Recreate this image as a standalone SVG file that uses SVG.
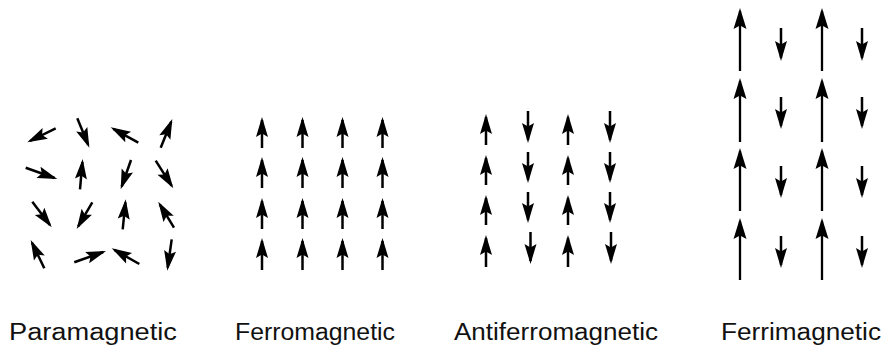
<svg xmlns="http://www.w3.org/2000/svg" width="886" height="347" viewBox="0 0 886 347">
<defs>
<marker id="ah" markerUnits="userSpaceOnUse" markerWidth="20" markerHeight="13" refX="17" refY="6.5" orient="auto" overflow="visible">
<path d="M20,6.5 L0,0.5 L3.5,6.5 L0,12.5 Z" fill="#000"/>
</marker>
<marker id="ahL" markerUnits="userSpaceOnUse" markerWidth="21" markerHeight="14" refX="18" refY="7" orient="auto" overflow="visible">
<path d="M21,7 L0,0.5 L3.5,7 L0,13.5 Z" fill="#000"/>
</marker>
</defs>
<style>
.a{stroke:#000;stroke-width:2.5;fill:none;marker-end:url(#ah)}
.l{stroke:#000;stroke-width:2.3;fill:none;marker-end:url(#ahL)}
.lbl{font-family:"Liberation Sans",Arial,Helvetica,sans-serif;font-size:23px;fill:#111}
</style>
<rect width="886" height="347" fill="#fff"/>

<g id="paramagnetic">
<line class="a" x1="55.7" y1="128.3" x2="30" y2="141"/>
<line class="a" x1="77.3" y1="118.3" x2="88.2" y2="144.9"/>
<line class="a" x1="138.3" y1="142.7" x2="113.3" y2="128.8"/>
<line class="a" x1="160.7" y1="147.7" x2="171.2" y2="121.8"/>
<line class="a" x1="25.7" y1="167.7" x2="54.5" y2="178"/>
<line class="a" x1="80" y1="189.3" x2="82.4" y2="162"/>
<line class="a" x1="131" y1="160" x2="121.7" y2="186.5"/>
<line class="a" x1="155.7" y1="160.7" x2="171.7" y2="185.8"/>
<line class="a" x1="32.3" y1="201.7" x2="49.9" y2="224.9"/>
<line class="a" x1="92.3" y1="202.3" x2="78.2" y2="226.4"/>
<line class="a" x1="122.7" y1="229.3" x2="125.4" y2="202.3"/>
<line class="a" x1="174" y1="227.7" x2="159.8" y2="204.3"/>
<line class="a" x1="44.3" y1="268.3" x2="32" y2="242.7"/>
<line class="a" x1="74.3" y1="262.3" x2="103.2" y2="252"/>
<line class="a" x1="139.3" y1="264" x2="114.3" y2="249.8"/>
<line class="a" x1="171.7" y1="239.3" x2="167.7" y2="267.7"/>
</g>

<g id="ferromagnetic">
<line class="a" x1="262" y1="148" x2="262" y2="120"/>
<line class="a" x1="302.5" y1="148" x2="302.5" y2="120"/>
<line class="a" x1="342.5" y1="148" x2="342.5" y2="120"/>
<line class="a" x1="382.5" y1="148" x2="382.5" y2="120"/>
<line class="a" x1="262" y1="188" x2="262" y2="160"/>
<line class="a" x1="302.5" y1="188" x2="302.5" y2="160"/>
<line class="a" x1="342.5" y1="188" x2="342.5" y2="160"/>
<line class="a" x1="382.5" y1="188" x2="382.5" y2="160"/>
<line class="a" x1="262" y1="229" x2="262" y2="201"/>
<line class="a" x1="302.5" y1="229" x2="302.5" y2="201"/>
<line class="a" x1="342.5" y1="229" x2="342.5" y2="201"/>
<line class="a" x1="382.5" y1="229" x2="382.5" y2="201"/>
<line class="a" x1="262" y1="270" x2="262" y2="241"/>
<line class="a" x1="302.5" y1="270" x2="302.5" y2="241"/>
<line class="a" x1="342.5" y1="270" x2="342.5" y2="241"/>
<line class="a" x1="382.5" y1="270" x2="382.5" y2="241"/>
</g>

<g id="antiferromagnetic">
<line class="a" x1="486" y1="145" x2="486" y2="117"/>
<line class="a" x1="528" y1="111" x2="528" y2="140"/>
<line class="a" x1="568" y1="145" x2="568" y2="117"/>
<line class="a" x1="610" y1="111" x2="610" y2="140"/>
<line class="a" x1="486" y1="185" x2="486" y2="158"/>
<line class="a" x1="528" y1="152" x2="528" y2="180"/>
<line class="a" x1="568" y1="185" x2="568" y2="158"/>
<line class="a" x1="610" y1="152" x2="610" y2="180"/>
<line class="a" x1="486" y1="225" x2="486" y2="198"/>
<line class="a" x1="528" y1="192" x2="528" y2="220"/>
<line class="a" x1="568" y1="225" x2="568" y2="198"/>
<line class="a" x1="610" y1="192" x2="610" y2="220"/>
<line class="a" x1="486" y1="267" x2="486" y2="238"/>
<line class="a" x1="530.5" y1="232" x2="530.5" y2="261"/>
<line class="a" x1="568" y1="267" x2="568" y2="238"/>
<line class="a" x1="611" y1="232" x2="611" y2="261"/>
</g>

<g id="ferrimagnetic">
<line class="l" x1="740" y1="71" x2="740" y2="11"/>
<line class="a" x1="781" y1="28" x2="781" y2="58"/>
<line class="l" x1="822" y1="71" x2="822" y2="11"/>
<line class="a" x1="862" y1="28" x2="862" y2="58"/>
<line class="l" x1="740" y1="142" x2="740" y2="81"/>
<line class="a" x1="781" y1="97" x2="781" y2="126"/>
<line class="l" x1="822" y1="142" x2="822" y2="81"/>
<line class="a" x1="862" y1="97" x2="862" y2="126"/>
<line class="l" x1="740" y1="211" x2="740" y2="151"/>
<line class="a" x1="781" y1="166" x2="781" y2="195"/>
<line class="l" x1="822" y1="211" x2="822" y2="151"/>
<line class="a" x1="862" y1="166" x2="862" y2="195"/>
<line class="l" x1="740" y1="280" x2="740" y2="221"/>
<line class="a" x1="781" y1="236" x2="781" y2="265"/>
<line class="l" x1="822" y1="280" x2="822" y2="221"/>
<line class="a" x1="862" y1="236" x2="862" y2="265"/>
</g>

<g id="labels">
<text class="lbl" x="9" y="340" textLength="168" lengthAdjust="spacingAndGlyphs">Paramagnetic</text>
<text class="lbl" x="235" y="340" textLength="160" lengthAdjust="spacingAndGlyphs">Ferromagnetic</text>
<text class="lbl" x="454" y="340" textLength="204" lengthAdjust="spacingAndGlyphs">Antiferromagnetic</text>
<text class="lbl" x="721" y="340" textLength="160" lengthAdjust="spacingAndGlyphs">Ferrimagnetic</text>
</g>
</svg>
